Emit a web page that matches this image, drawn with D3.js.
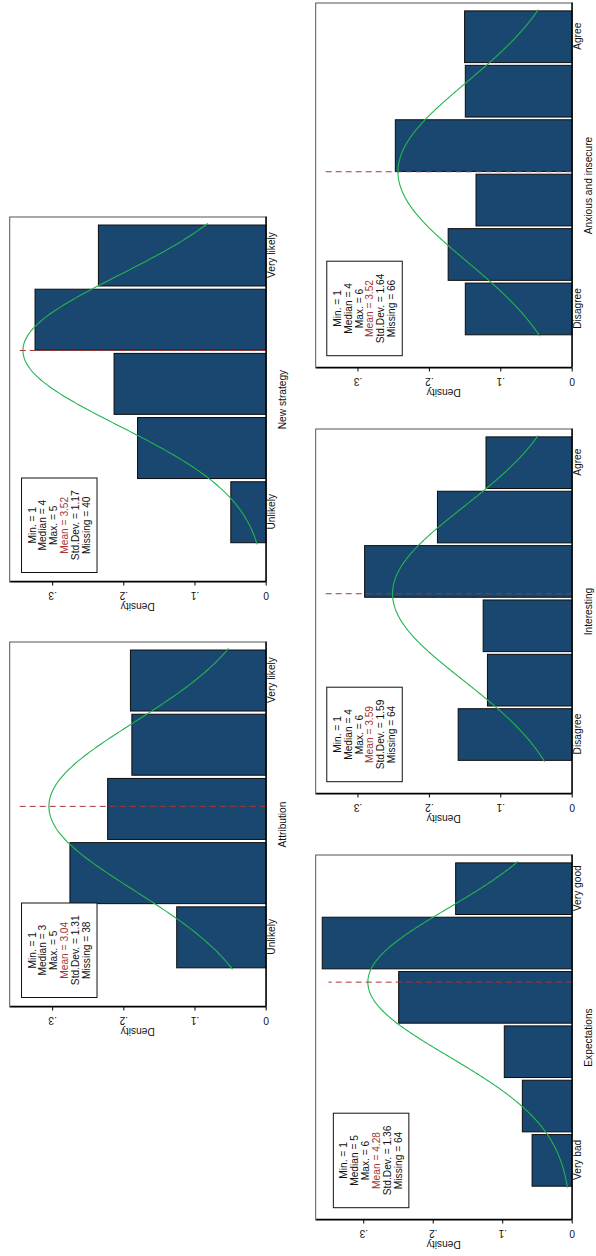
<!DOCTYPE html>
<html><head><meta charset="utf-8">
<script src="https://cdn.jsdelivr.net/npm/d3@7"></script>
<style>
body{margin:0;background:#fff}
svg{display:block}
text{font-family:"Liberation Sans",Arial,Helvetica,sans-serif}
</style>
</head><body>
<svg id="chart" width="596" height="1256"></svg>
<script>
// ---------- data ----------
const panelTitles = ["Attribution", "New strategy", "Expectations", "Interesting", "Anxious and insecure"];
const lowLabels  = ["Unlikely", "Unlikely", "Very bad", "Disagree", "Disagree"];
const highLabels = ["Very likely", "Very likely", "Very good", "Agree", "Agree"];
const attributionDensity  = [0.125, 0.275, 0.222, 0.188, 0.190];
const newStrategyDensity  = [0.049, 0.180, 0.213, 0.324, 0.235];
const expectationsDensity = [0.057, 0.071, 0.097, 0.249, 0.359, 0.167];
const interestingDensity  = [0.159, 0.118, 0.124, 0.290, 0.188, 0.120];
const anxiousDensity      = [0.149, 0.173, 0.134, 0.247, 0.149, 0.150];
const statMin     = [1, 1, 1, 1, 1];
const statMedian  = [3, 4, 5, 4, 4];
const statMax     = [5, 5, 6, 6, 6];
const statMean    = [3.04, 3.52, 4.28, 3.59, 3.52];
const statSD      = [1.31, 1.17, 1.36, 1.59, 1.64];
const statMissing = [38, 40, 64, 64, 66];
const yTickValues = [0, 0.1, 0.2, 0.3];
const yTickLabels = ["0", ".1", ".2", ".3"];
const densities = [attributionDensity, newStrategyDensity, expectationsDensity, interestingDensity, anxiousDensity];

// ---------- layout (original landscape graph, then rotated) ----------
const W = 1256, H = 596;
const PW = 365, PH = 256;
const layout = [
  {left: 249, top: 9.7,   xDomain: [-0.085, 5.6],  yMax: 0.3596, inset: 9.5},
  {left: 674, top: 9.7,   xDomain: [-0.087, 5.6],  yMax: 0.3596, inset: 9.5},
  {left: 36,  top: 315.7, xDomain: [-0.097, 6.62], yMax: 0.3684, inset: 12.3},
  {left: 462, top: 315.7, xDomain: [-0.094, 6.62], yMax: 0.3585, inset: 12.3},
  {left: 888, top: 315.7, xDomain: [-0.085, 6.62], yMax: 0.3585, inset: 12.3}
];
const FS = 10.2;
const barFill = "#1a476f", curveColor = "#22b450", meanColor = "#a83535";

const svg = d3.select("#chart");
svg.append("rect").attr("width", 596).attr("height", 1256).attr("fill", "#fff");
const root = svg.append("g").attr("transform", `translate(0,${W}) rotate(-90)`);

densities.forEach((dens, i) => {
  const L = layout[i];
  const n = dens.length;
  const cats = d3.range(1, n + 1);
  const g = root.append("g").attr("transform", `translate(${L.left},${L.top})`);
  const x = d3.scaleLinear().domain(L.xDomain).range([0, PW]);
  const y = d3.scaleLinear().domain([0, L.yMax]).range([PH, 0]);

  // plot region outline
  g.append("rect").attr("x", 0).attr("y", 0).attr("width", PW).attr("height", PH)
    .attr("fill", "none").attr("stroke", "#555").attr("stroke-width", 1);

  // bars (discrete, 95% width)
  const bw = x(1) - x(0);
  g.selectAll("rect.bar").data(cats).enter().append("rect").attr("class", "bar")
    .attr("x", d => x(d) - bw * 0.475)
    .attr("width", bw * 0.95)
    .attr("y", (d, k) => y(dens[k]))
    .attr("height", (d, k) => y(0) - y(dens[k]))
    .attr("fill", barFill).attr("stroke", "#0d0d0d").attr("stroke-width", 1);

  // normal density curve
  const mu = statMean[i], sd = statSD[i];
  const pdf = v => Math.exp(-0.5 * ((v - mu) / sd) ** 2) / (sd * Math.sqrt(2 * Math.PI));
  const xs = d3.range(0.5, n + 0.5 + 1e-9, 0.02);
  g.append("path").datum(xs)
    .attr("d", d3.line().x(v => x(v)).y(v => y(pdf(v))))
    .attr("fill", "none").attr("stroke", curveColor).attr("stroke-width", 1.1);

  // mean line
  g.append("line").attr("x1", x(mu)).attr("x2", x(mu)).attr("y1", y(0)).attr("y2", y(0.35))
    .attr("stroke", meanColor).attr("stroke-width", 1).attr("stroke-dasharray", "6,4");

  // axes
  const yAxis = d3.axisLeft(y).tickValues(yTickValues)
    .tickFormat((d, k) => yTickLabels[k]).tickSize(3.5).tickSizeOuter(0);
  const ya = g.append("g").call(yAxis);
  ya.selectAll(".tick text")
    .attr("x", 0).attr("y", 0).attr("dy", null)
    .attr("transform", "translate(-13.2,0) rotate(-90)")
    .attr("text-anchor", "middle").attr("dominant-baseline", "central");
  const xAxis = d3.axisBottom(x).tickValues([1, n])
    .tickFormat(d => d === 1 ? lowLabels[i] : highLabels[i]).tickSize(0).tickSizeOuter(0).tickPadding(1.6);
  const xa = g.append("g").attr("transform", `translate(0,${PH})`).call(xAxis);
  [ya, xa].forEach(a => {
    a.select(".domain").attr("stroke", "#000").attr("stroke-width", 1.3);
    a.selectAll(".tick line").attr("stroke", "#000");
    a.selectAll("text").attr("font-size", FS).attr("font-family", '"Liberation Sans",Arial,sans-serif').attr("fill", "#111");
  });

  // axis titles
  g.append("text").attr("x", PW / 2).attr("y", PH + 20.5).attr("text-anchor", "middle")
    .attr("font-size", FS).attr("fill", "#111").text(panelTitles[i]);
  g.append("text").attr("transform", `translate(-24.5,${PH / 2}) rotate(-90)`)
    .attr("text-anchor", "middle").attr("dominant-baseline", "central")
    .attr("font-size", FS).attr("fill", "#111").text("Density");

  // stats box
  const bx = L.inset, by = y(0.343), bW = 94.5, bH = 75.5;
  g.append("rect").attr("x", bx).attr("y", by).attr("width", bW).attr("height", bH)
    .attr("fill", "#fff").attr("stroke", "#111").attr("stroke-width", 1);
  const lines = [
    ["Min. = " + statMin[i], "#111"],
    ["Median = " + statMedian[i], "#111"],
    ["Max. = " + statMax[i], "#111"],
    ["Mean = " + statMean[i].toFixed(2), meanColor],
    ["Std.Dev. = " + statSD[i].toFixed(2), "#111"],
    ["Missing = " + statMissing[i], "#111"]
  ];
  const lh = 10.9;
  const cy = by + bH / 2;
  g.selectAll("text.stat").data(lines).enter().append("text").attr("class", "stat")
    .attr("x", bx + bW / 2)
    .attr("y", (d, k) => cy + (k - 2.5) * lh)
    .attr("text-anchor", "middle").attr("dominant-baseline", "central")
    .attr("font-size", FS).attr("fill", d => d[1]).text(d => d[0]);
});
</script>
</body></html>
